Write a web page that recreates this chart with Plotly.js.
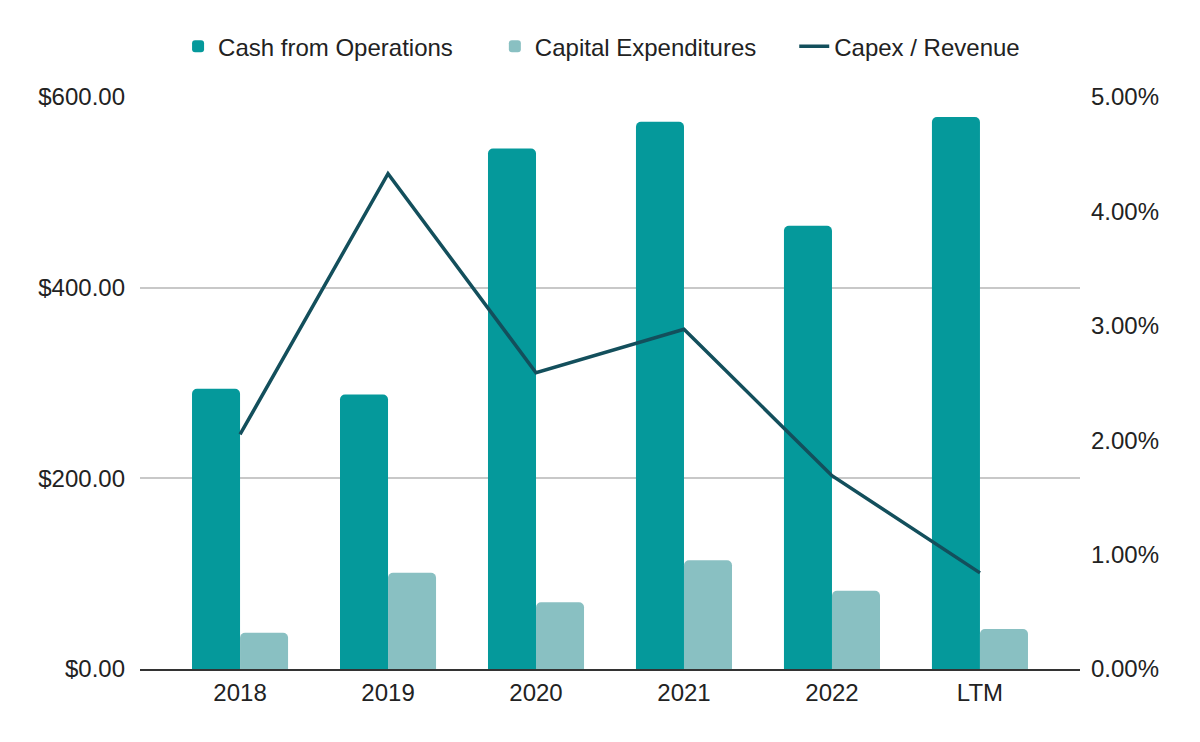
<!DOCTYPE html>
<html>
<head>
<meta charset="utf-8">
<script src="https://cdn.plot.ly/plotly-3.0.1.min.js"></script>
<style>
  html, body { margin: 0; padding: 0; background: #fff; }
  #chart { width: 1200px; height: 742px; }
</style>
</head>
<body>
<div id="chart"></div>
<script>
var years = ["2018", "2019", "2020", "2021", "2022", "LTM"];
var cashFromOps = [294, 288, 546, 574, 465, 579];
var capex = [38, 101, 70, 114, 82, 42];
var capexToRevenue = [0.0205, 0.0433, 0.0259, 0.0297, 0.0169, 0.0084];

var leftTicks = [0, 200, 400, 600];
var rightTicks = [0, 0.01, 0.02, 0.03, 0.04, 0.05];

var fontFamily = "Liberation Sans, Arial, sans-serif";
var textFont = { family: fontFamily, size: 24, color: "#222222" };

var traces = [
  {
    type: "bar",
    name: "Cash from Operations",
    x: years,
    y: cashFromOps,
    marker: { color: "#05999b", cornerradius: 5 },
    legend: "legend"
  },
  {
    type: "bar",
    name: "Capital Expenditures",
    x: years,
    y: capex,
    marker: { color: "#89c0c2", cornerradius: 5 },
    legend: "legend2"
  },
  {
    type: "scatter",
    mode: "lines",
    name: "Capex / Revenue",
    x: years,
    y: capexToRevenue,
    yaxis: "y2",
    line: { color: "#134f5c", width: 3.5 },
    legend: "legend3"
  }
];

// one legend per entry so the spacing can follow the original
function legendAt(xPaper) {
  return {
    orientation: "h",
    x: xPaper,
    xanchor: "left",
    y: 1.088,
    yanchor: "middle",
    font: textFont,
    bgcolor: "rgba(0,0,0,0)"
  };
}

var layout = {
  width: 1200,
  height: 742,
  margin: { l: 140, r: 120, t: 97, b: 73 },
  paper_bgcolor: "#ffffff",
  plot_bgcolor: "#ffffff",
  font: textFont,
  barmode: "group",
  bargap: 0.351,
  bargroupgap: 0,
  showlegend: true,
  legend: legendAt(0.0405),
  legend2: legendAt(0.3775),
  legend3: legendAt(0.696),
  xaxis: {
    type: "category",
    range: [-0.676, 5.676],
    showgrid: false,
    showline: true,
    linecolor: "#333333",
    linewidth: 2,
    ticks: "",
    ticklabelstandoff: 1,
    tickfont: textFont
  },
  yaxis: {
    range: [0, 600],
    tickvals: leftTicks,
    tickformat: "$,.2f",
    showgrid: true,
    gridcolor: "#c8c8c8",
    gridwidth: 2,
    zeroline: false,
    showline: false,
    ticks: "",
    ticklabelstandoff: 14,
    tickfont: textFont
  },
  yaxis2: {
    overlaying: "y",
    side: "right",
    range: [0, 0.05],
    tickvals: rightTicks,
    tickformat: ".2%",
    showgrid: false,
    zeroline: false,
    showline: false,
    ticks: "",
    ticklabelstandoff: 10,
    tickfont: textFont
  }
};

Plotly.newPlot("chart", traces, layout, { displayModeBar: false, staticPlot: true });
</script>
</body>
</html>
